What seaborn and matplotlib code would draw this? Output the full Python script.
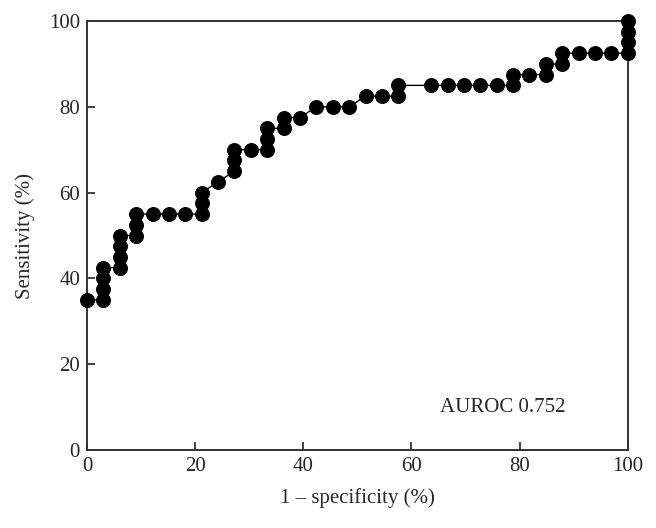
import numpy as np
import pandas as pd
import matplotlib
matplotlib.use("Agg")
import matplotlib.pyplot as plt
import seaborn as sns

# ROC points (1 - specificity, sensitivity), in %
fpr = [0.00, 3.03, 3.03, 3.03, 3.03, 6.06, 6.06, 6.06, 6.06, 9.09, 9.09, 9.09,
       12.12, 15.15, 18.18, 21.21, 21.21, 21.21, 24.24, 27.27, 27.27, 27.27,
       30.30, 33.33, 33.33, 33.33, 36.36, 36.36, 39.39, 42.42, 45.45, 48.48,
       51.52, 54.55, 57.58, 57.58, 63.64, 66.67, 69.70, 72.73, 75.76, 78.79,
       78.79, 81.82, 84.85, 84.85, 87.88, 87.88, 90.91, 93.94, 96.97, 100.0,
       100.0, 100.0, 100.0]
tpr = [35.0, 35.0, 37.5, 40.0, 42.5, 42.5, 45.0, 47.5, 50.0, 50.0, 52.5, 55.0,
       55.0, 55.0, 55.0, 55.0, 57.5, 60.0, 62.5, 65.0, 67.5, 70.0,
       70.0, 70.0, 72.5, 75.0, 75.0, 77.5, 77.5, 80.0, 80.0, 80.0,
       82.5, 82.5, 82.5, 85.0, 85.0, 85.0, 85.0, 85.0, 85.0, 85.0,
       87.5, 87.5, 87.5, 90.0, 90.0, 92.5, 92.5, 92.5, 92.5, 92.5,
       95.0, 97.5, 100.0]
auroc_text = "AUROC 0.752"

df = pd.DataFrame({"fpr": fpr, "tpr": tpr})

sns.set_style("ticks")
plt.rcParams["font.family"] = ["Liberation Serif", "DejaVu Serif"]
plt.rcParams["xtick.direction"] = "in"
plt.rcParams["ytick.direction"] = "in"

fig = plt.figure(figsize=(6.56, 5.28), dpi=100)
ax = fig.add_axes([0.1326, 0.1477, 0.8244, 0.8125])

sns.lineplot(data=df, x="fpr", y="tpr", sort=False, estimator=None, ax=ax,
             color="black", linewidth=1.0, marker="o", markersize=10,
             markeredgecolor="black", markerfacecolor="black",
             clip_on=False, zorder=3)

ax.set_xlim(0, 100)
ax.set_ylim(0, 100)
ax.set_xticks(np.arange(0, 101, 20))
ax.set_yticks(np.arange(0, 101, 20))
ax.tick_params(axis="both", labelsize=15, length=6, width=1.3, color="#333333",
               pad=5)
for s in ax.spines.values():
    s.set_color("#333333")
    s.set_linewidth(1.4)

ax.set_xlabel("1 \u2013 specificity (%)", fontsize=15, labelpad=9)
ax.set_ylabel("Sensitivity (%)", fontsize=15, labelpad=10)
ax.text(65.2, 10, auroc_text, fontsize=15, va="center", ha="left")

fig.savefig("out.png", dpi=100)
